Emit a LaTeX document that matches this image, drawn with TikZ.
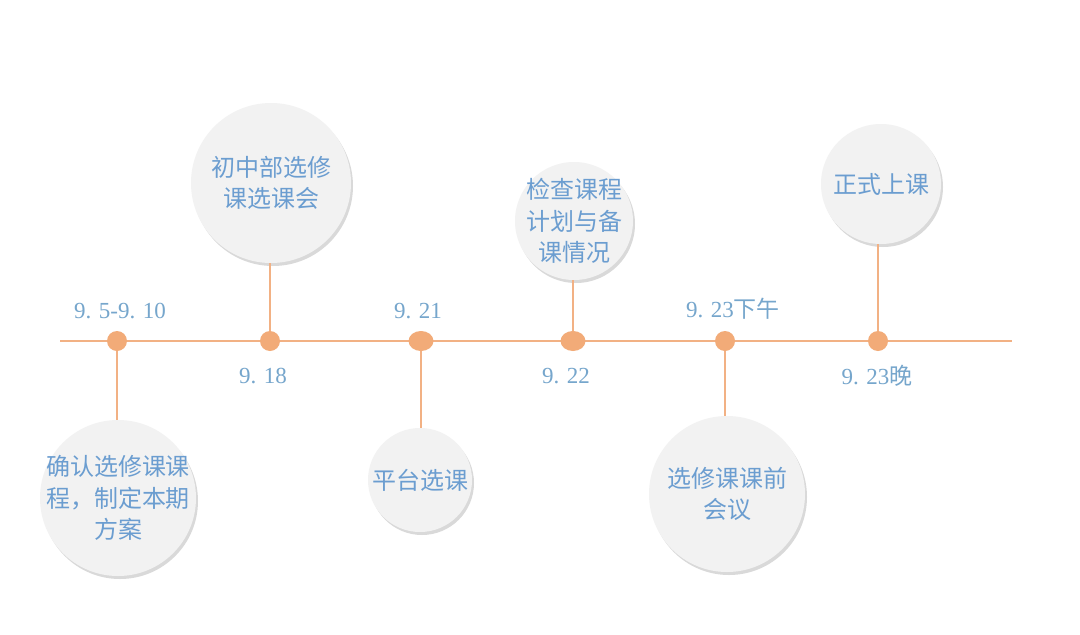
\documentclass[tikz,border=0pt]{standalone}
\usepackage{fontspec}
\setmainfont{Liberation Serif}
\newfontfamily\cjk{Noto Sans CJK SC}
\usetikzlibrary{shadows,shapes.geometric}
\definecolor{lineor}{HTML}{F2B184}
\definecolor{dotor}{HTML}{F2AB78}
\definecolor{bubfill}{HTML}{F2F2F2}
\definecolor{txtblue}{HTML}{6B9DD0}
\definecolor{datblue}{HTML}{76A6CC}
\begin{document}
\begin{tikzpicture}[x=1pt,y=-1pt,
  bubble/.style={circle,fill=bubfill,draw=none,inner sep=0pt,
    drop shadow={shadow xshift=2pt,shadow yshift=-3pt,opacity=0.15,fill=black}},
  btext/.style={font=\cjk\fontsize{24}{31.5}\selectfont,text=txtblue,align=center,inner sep=0pt},
  dot/.style={ellipse,fill=dotor,draw=none,inner sep=0pt},
  datel/.style={font=\fontsize{23}{26}\selectfont,text=datblue},
  conn/.style={draw=lineor,line width=1.3pt}]
\useasboundingbox (0,0) rectangle (1080,635);
\fill[white] (0,0) rectangle (1080,635);
% main line
\coordinate (L) at (60,341);
\coordinate (R) at (1012,341);
\draw[conn,line width=1.8pt] (L) -- (R);
% bubbles
\node[bubble,minimum size=156pt] (b1) at (118,498) {};
\node[bubble,minimum size=160pt] (b2) at (271,183) {};
\node[bubble,minimum size=104pt] (b3) at (420,480) {};
\node[bubble,minimum size=118pt] (b4) at (574,221) {};
\node[bubble,minimum size=156pt] (b5) at (727,494) {};
\node[bubble,minimum size=120pt] (b6) at (881,184) {};
\node[btext] (x1) at (b1.center) {确认选修课课\\程，制定本期\\方案};
\node[btext] (x2) at (b2.center) {初中部选修\\课选课会};
\node[btext] (x3) at (b3.center) {平台选课};
\node[btext] (x4) at (b4.center) {检查课程\\计划与备\\课情况};
\node[btext] (x5) at (b5.center) {选修课课前\\会议};
\node[btext] (x6) at (b6.center) {正式上课};
% dots
\node[dot,minimum width=20pt,minimum height=20pt] (d1) at (117,341) {};
\node[dot,minimum width=20pt,minimum height=20pt] (d2) at (270,341) {};
\node[dot,minimum width=25pt,minimum height=20pt] (d3) at (421,341) {};
\node[dot,minimum width=25pt,minimum height=20pt] (d4) at (573,341) {};
\node[dot,minimum width=20pt,minimum height=20pt] (d5) at (725,341) {};
\node[dot,minimum width=20pt,minimum height=20pt] (d6) at (878,341) {};
% connectors
\draw[conn] (d1.south) -- (d1.south |- b1.north);
\draw[conn] (d2.north) -- (d2.north |- b2.south);
\draw[conn] (d3.south) -- (d3.south |- b3.north);
\draw[conn] (d4.north) -- (d4.north |- b4.south);
\draw[conn] (d5.south) -- (d5.south |- b5.north);
\draw[conn] (d6.north) -- (d6.north |- b6.south);
% date labels
\node[datel] (t1) at (120,311) {9.\,\,5-9.\,\,10};
\node[datel] (t2) at (263,376) {9.\,\,18};
\node[datel] (t3) at (418,311) {9.\,\,21};
\node[datel] (t4) at (566,376) {9.\,\,22};
\node[datel] (t5) at (733,309) {9.\,\,23{\cjk 下午}};
\node[datel] (t6) at (877,376) {9.\,\,23{\cjk 晚}};
\end{tikzpicture}
\end{document}
